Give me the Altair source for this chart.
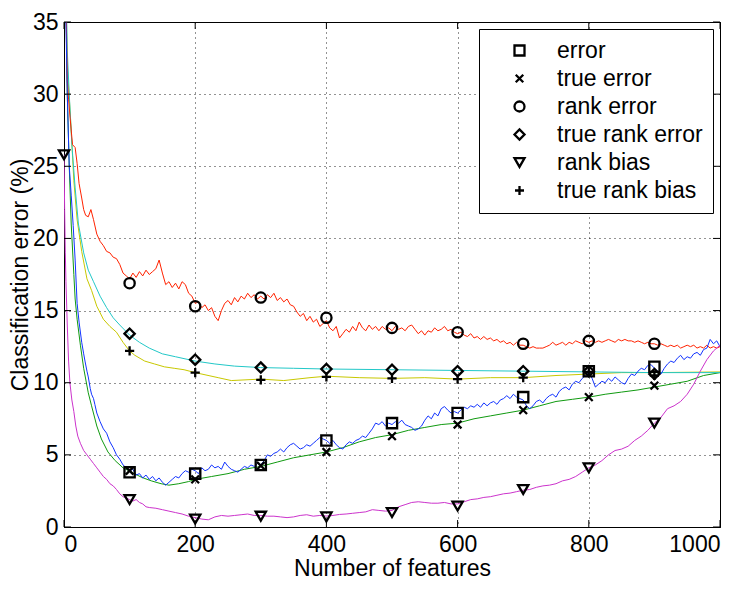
import altair as alt
import pandas as pd

# ---------------- data ----------------
names = ["error", "true error", "rank error", "true rank error", "rank bias", "true rank bias"]

# rank error (red, noisy)
red_x_early = [0, 5, 7, 10, 13, 17, 20, 23, 27, 30, 33, 37, 41, 45]
red_y_early = [45, 31, 29.6, 28.0, 26.5, 26.3, 25.2, 23.8, 22.8, 22.0, 21.6, 21.5, 22.0, 21.3]
red_y_rest = [  # x = 50, 55, ..., 1000
    20.3, 19.8, 19.5, 19.1, 19.0, 18.7, 18.6, 18.2, 17.6, 17.4,
    17.2, 17.6, 17.3, 17.7, 17.4, 17.8, 17.5, 17.7, 17.9, 18.5,
    17.6, 16.8, 17.0, 16.6, 16.9, 16.5, 17.0, 16.8, 16.2, 16.0,
    15.5, 15.6, 15.2, 15.4, 15.0, 15.2, 14.6, 14.3, 15.0, 15.5,
    15.7, 15.4, 15.9, 15.6, 16.0, 15.8, 16.2, 15.9, 16.1, 15.8,
    16.0, 15.8, 16.1, 15.9, 16.2, 15.7, 15.9, 15.6, 15.8, 15.4,
    15.3, 14.9, 14.6, 14.8, 14.3, 14.6, 14.2, 14.4, 13.9, 14.1,
    14.3, 13.8, 13.6, 13.9, 13.1, 13.4, 13.7, 13.5, 13.9, 13.6,
    14.2, 13.8, 13.6, 14.0, 13.7, 13.9, 13.6, 13.9, 13.7, 13.8,
    13.6, 13.9, 13.7, 13.8, 13.6, 13.9, 14.0, 13.7, 13.4, 13.6,
    13.3, 13.6, 13.5, 13.8, 13.6, 13.7, 13.9, 13.6, 13.7, 13.5,
    13.4, 13.5, 13.3, 13.2, 13.4, 13.1, 13.2, 13.0, 13.2, 13.0,
    13.1, 12.9, 13.0, 12.8, 12.9, 12.7, 12.8, 12.6, 12.8, 12.6,
    12.6, 12.5, 12.4, 12.5, 12.4, 12.4, 12.4, 12.5, 12.6, 12.8,
    12.6, 12.7, 12.8, 12.6, 12.8, 12.7, 12.9, 12.8, 12.7, 12.9,
    12.8, 12.9, 12.8, 12.9, 12.8, 12.9, 13.0, 12.9, 12.8, 13.0,
    12.9, 13.0, 12.9, 12.9, 12.8, 12.9, 12.8, 12.7, 12.8, 12.7,
    12.7, 12.6, 12.7, 12.6, 12.5, 12.6, 12.5, 12.6, 12.4, 12.5,
    12.6, 12.5, 12.6, 12.4, 12.5, 12.4, 12.6, 12.4, 12.5, 12.4,
    12.5,
]

# error (blue, noisy)
blue_x_early = [0, 3, 5, 8, 11, 14, 17, 20, 23, 27, 30, 32, 35, 37, 40, 42, 45, 47]
blue_y_early = [45, 35, 30, 25, 23, 20.9, 18.5, 15.5, 14.2, 12.8, 12.0, 11.5, 10.8, 10.4, 9.6, 9.2, 8.9, 8.5]
blue_y_rest = [  # x = 50, 55, ..., 1000
    7.9, 7.3, 6.8, 6.5, 5.9, 5.5, 5.0, 4.7, 4.3, 4.1,
    3.9, 4.0, 3.6, 3.7, 3.4, 3.6, 3.3, 3.5, 3.2, 3.4,
    3.1, 2.9, 3.1, 3.3, 3.5, 3.4, 3.7, 3.9, 3.8, 4.0,
    3.9, 3.7, 4.1, 3.9, 4.0, 4.3, 4.1, 4.2, 4.0, 4.5,
    4.2, 4.0, 3.9, 3.8, 4.0, 4.2, 4.1, 4.3, 4.2, 4.4,
    4.3, 4.6, 5.0, 4.9, 5.1, 5.2, 5.4, 5.2, 5.5, 5.7,
    5.8, 5.6, 5.4, 5.5, 5.7, 5.6, 5.8, 6.0, 6.2, 6.1,
    6.0, 5.8, 6.0, 5.7, 5.5, 5.4, 5.7, 5.9, 5.8, 6.0,
    6.1, 6.3, 6.2, 6.5, 6.8, 7.2, 7.1, 7.3, 7.0, 7.2,
    7.1, 7.3, 7.2, 7.4, 7.1, 7.0, 6.9, 6.7, 6.8, 7.0,
    7.4, 7.7, 7.5, 7.9, 7.7, 8.2, 8.35, 8.1, 7.9, 8.0,
    7.9, 8.1, 8.3, 8.2, 8.4, 8.3, 8.5, 8.3, 8.6, 8.4,
    8.6, 8.7, 8.5, 8.8, 8.9, 9.1, 8.9, 9.2, 9.0, 8.9,
    8.8, 8.4, 8.2, 8.4, 8.7, 8.8, 8.6, 8.9, 9.1, 9.2,
    9.0, 9.4, 9.6, 9.7, 9.5, 9.9, 10.1, 10.0, 10.3, 10.5,
    10.7, 10.3, 9.7, 9.9, 10.1, 10.0, 10.3, 10.1, 10.4, 10.2,
    10.0, 9.9, 10.3, 10.6, 10.5, 10.8, 11.0, 10.9, 11.2, 11.25,
    11.0, 10.8, 10.6, 11.0, 11.3, 11.5, 11.4, 11.7, 11.9, 11.6,
    11.8, 11.7, 12.0, 12.1, 11.9, 12.3, 12.4, 13.0, 12.7, 12.9,
    12.5,
]

# rank bias (magenta)
mag_x = [0, 1, 2, 3, 5, 7, 9, 12, 15, 18, 21, 25, 30, 35, 40, 45, 50, 55, 60, 65, 70, 75,
         80, 85, 90, 95, 100, 105, 110, 115, 120, 125] + list(range(130, 1001, 10))
mag_y = [25.8, 22, 19, 17, 14, 11.5, 10, 8.8, 8.0, 7.0, 6.3, 5.8, 5.3, 5.0, 4.7, 4.4, 4.1, 3.8,
         3.5, 3.3, 3.0, 2.85, 2.6, 2.3, 2.1, 2.0, 1.9, 1.8, 1.9, 1.7, 1.6, 1.4,
         1.35, 1.3, 1.2, 1.1, 1.0, 0.9, 0.75, 0.65, 0.55, 0.5,
         0.7, 0.8, 0.75, 0.8, 0.85, 0.9, 0.8, 0.8, 0.75, 0.75,
         0.7, 0.65, 0.7, 0.8, 0.85, 0.75, 0.8, 0.76, 0.8, 0.87,
         0.9, 0.95, 1.0, 1.05, 1.2, 1.15, 1.1, 1.15, 1.4, 1.55,
         1.7, 1.75, 1.7, 1.65, 1.65, 1.7, 1.6, 1.6, 1.75, 1.9,
         1.95, 2.05, 2.1, 2.2, 2.3, 2.35, 2.45, 2.55, 2.6, 2.75,
         2.85, 2.9, 3.0, 3.2, 3.3, 3.5, 3.8, 4.1, 4.3, 4.6,
         5.0, 5.3, 5.4, 5.6, 6.0, 6.3, 6.7, 7.2, 7.6, 8.2,
         8.4, 8.7, 9.2, 9.9, 10.8, 11.6, 12.2, 12.6]

# true error (green)
grn_x = [0, 5, 8, 11, 15, 17, 20, 25, 30, 37, 42, 50, 57, 67, 78, 90, 103, 118, 133, 148,
         160, 175, 190, 200] + list(range(225, 1001, 25))
grn_y = [45, 30, 25, 21, 17.5, 15.8, 14.4, 12.6, 11.0, 9.3, 8.4, 7.0, 6.1, 5.2, 4.6, 4.1, 3.8,
         3.45, 3.2, 3.0, 2.9, 3.0, 3.15, 3.3,
         3.5, 3.7, 4.0, 4.2, 4.5, 4.8, 5.0, 5.2, 5.5, 5.9, 6.2, 6.4, 6.7, 6.9, 7.1, 7.2,
         7.5, 7.7, 7.9, 8.1, 8.4, 8.7, 8.85, 9.0, 9.2, 9.35, 9.5, 9.7, 9.9, 10.1, 10.5, 10.7]

# true rank error (cyan)
cyn_x = [0, 5, 8, 12, 17, 22, 30, 37, 45, 55, 65, 75, 85, 100, 115, 130, 150, 170, 200,
         230, 260, 300, 350, 400, 500, 600, 700, 800, 900, 1000]
cyn_y = [45, 33, 30, 26.5, 23.5, 21, 19, 17.8, 17.0, 16.0, 15.2, 14.5, 14.0, 13.3, 12.8, 12.4,
         12.0, 11.8, 11.5, 11.3, 11.15, 11.05, 11.0, 10.95, 10.9, 10.85, 10.8, 10.75, 10.7, 10.7]

# true rank bias (yellow)
yel_x = [0, 5, 10, 15, 20, 27, 35, 42, 50, 60, 70, 80, 90, 100, 108, 123, 138, 153, 168, 183,
         200, 235, 255, 300, 335, 375, 400, 450, 500, 550, 600, 650, 700, 750, 800, 850, 900, 1000]
yel_y = [45, 32, 28.3, 24, 21.3, 19.1, 17.2, 16.4, 15.3, 14.4, 13.9, 13.5, 12.8, 12.2, 11.9,
         11.5, 11.3, 11.1, 11.0, 10.9, 10.7, 10.35, 10.15, 10.25, 10.15, 10.35, 10.45, 10.35,
         10.3, 10.35, 10.25, 10.35, 10.35, 10.5, 10.6, 10.7, 10.7, 10.75]

# markers every 100 features
mk_x = [100, 200, 300, 400, 500, 600, 700, 800, 900]
mk_error = [3.8, 3.7, 4.3, 6.0, 7.2, 7.9, 9.0, 10.8, 11.1]
mk_true_error = [3.9, 3.3, 4.25, 5.2, 6.3, 7.1, 8.1, 9.0, 9.8]
mk_rank_error = [16.9, 15.3, 15.9, 14.5, 13.8, 13.5, 12.7, 12.9, 12.7]
mk_true_rank_error = [13.4, 11.6, 11.05, 10.95, 10.9, 10.8, 10.8, 10.8, 10.6]
mk_rank_bias_x = [0] + mk_x
mk_rank_bias = [25.8, 1.9, 0.55, 0.75, 0.7, 1.0, 1.45, 2.6, 4.1, 7.2]
mk_true_rank_bias = [12.2, 10.7, 10.2, 10.4, 10.3, 10.25, 10.35, 10.75, 10.5]

x_ticks = [0, 200, 400, 600, 800, 1000]
y_ticks = [0, 5, 10, 15, 20, 25, 30, 35]

# ---------------- tables ----------------
rest5 = list(range(50, 1001, 5))
line_series = [
    ("true error", grn_x, grn_y, "#109A10"),
    ("true rank bias", yel_x, yel_y, "#C8C800"),
    ("true rank error", cyn_x, cyn_y, "#22C8C8"),
    ("rank error", red_x_early + rest5, red_y_early + red_y_rest, "#FF2200"),
    ("error", blue_x_early + rest5, blue_y_early + blue_y_rest, "#1133FF"),
    ("rank bias", mag_x, mag_y, "#CC33CC"),
]

mrows = []
for nm, xs_, ys_ in [
    ("error", mk_x, mk_error),
    ("true error", mk_x, mk_true_error),
    ("rank error", mk_x, mk_rank_error),
    ("true rank error", mk_x, mk_true_rank_error),
    ("rank bias", mk_rank_bias_x, mk_rank_bias),
    ("true rank bias", mk_x, mk_true_rank_bias),
]:
    for a, b in zip(xs_, ys_):
        mrows.append({"series": nm, "x": a, "y": b})
marks_df = pd.DataFrame(mrows)

xt_df = pd.DataFrame({"x": x_ticks})
yt_df = pd.DataFrame({"y": y_ticks})

W, H = 656, 505
FONT = "Liberation Sans"

shapes = ["square", "M-0.75,-0.75L0.75,0.75M-0.75,0.75L0.75,-0.75", "circle", "diamond",
          "triangle-down", "M-0.9,0L0.9,0M0,-0.9L0,0.9"]

x_axis = alt.Axis(values=x_ticks, format="d", title="Number of features", grid=True, tickSize=0,
                  labelPadding=6, titlePadding=1)
y_axis = alt.Axis(values=y_ticks, title="Classification error (%)", grid=True, tickSize=0,
                  labelPadding=6, titleX=-37, titleBaseline="alphabetic")
xs = alt.Scale(domain=[0, 1000], nice=False, zero=False)
ys = alt.Scale(domain=[0, 35], nice=False, zero=False)

line_layers = []
for nm, lx, ly, col in line_series:
    df = pd.DataFrame({"x": lx, "y": ly})
    line_layers.append(
        alt.Chart(df).mark_line(strokeWidth=1, clip=True, color=col).encode(
            x=alt.X("x:Q", scale=xs, axis=x_axis),
            y=alt.Y("y:Q", scale=ys, axis=y_axis),
        )
    )

points = alt.Chart(marks_df).mark_point(filled=False, strokeWidth=2.3, size=105, opacity=1).encode(
    x=alt.X("x:Q", scale=xs, axis=x_axis),
    y=alt.Y("y:Q", scale=ys, axis=y_axis),
    shape=alt.Shape("series:N", scale=alt.Scale(domain=names, range=shapes),
                    legend=alt.Legend(title=None, orient="top-right", offset=7,
                                      labelFontSize=23, labelFont=FONT, labelColor="black",
                                      strokeColor="black", fillColor="white", padding=10,
                                      symbolStrokeColor="black", symbolStrokeWidth=2.3,
                                      symbolSize=100, symbolOpacity=1, rowPadding=4,
                                      symbolOffset=19, labelOffset=26, labelLimit=400)),
    color=alt.value("black"),
)

tick_bottom = alt.Chart(xt_df).mark_rule(color="black", strokeWidth=1).encode(
    x=alt.X("x:Q", scale=xs, axis=x_axis), y=alt.value(H), y2=alt.value(H - 7))
tick_top = alt.Chart(xt_df).mark_rule(color="black", strokeWidth=1).encode(
    x=alt.X("x:Q", scale=xs, axis=x_axis), y=alt.value(0), y2=alt.value(7))
tick_left = alt.Chart(yt_df).mark_rule(color="black", strokeWidth=1).encode(
    y=alt.Y("y:Q", scale=ys, axis=y_axis), x=alt.value(0), x2=alt.value(7))
tick_right = alt.Chart(yt_df).mark_rule(color="black", strokeWidth=1).encode(
    y=alt.Y("y:Q", scale=ys, axis=y_axis), x=alt.value(W), x2=alt.value(W - 7))

chart = alt.layer(*line_layers, points, tick_bottom, tick_top, tick_left, tick_right).properties(
    width=W, height=H,
    padding={"left": 1, "top": 3, "right": 0, "bottom": 0},
    background="white",
).configure_view(
    stroke="black", strokeWidth=1
).configure_axis(
    labelFont=FONT, titleFont=FONT, labelFontSize=23, titleFontSize=23,
    titleFontWeight="normal", labelColor="black", titleColor="black",
    domainColor="black", domainWidth=1, gridColor="black", gridDash=[1, 4],
    gridOpacity=0.85, gridWidth=1,
)

chart.save("out.html", embed_options={"renderer": "svg", "actions": False})
